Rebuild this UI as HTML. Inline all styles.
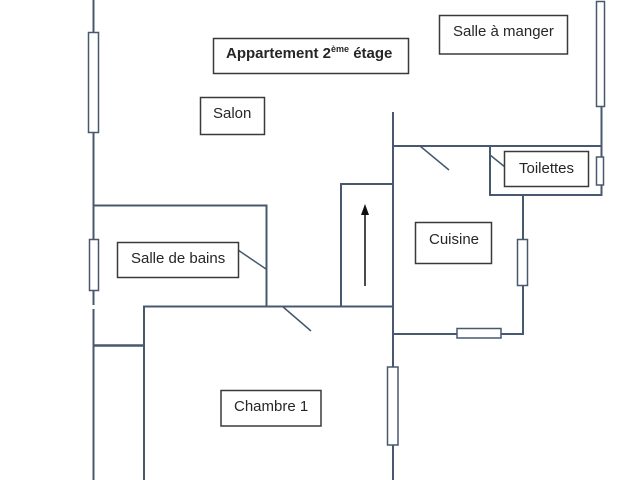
<!DOCTYPE html>
<html><head><meta charset="utf-8"><style>
html,body{margin:0;padding:0;background:#fff;}
svg{display:block;}
text{font-family:"Liberation Sans",Arial,sans-serif;font-size:15px;fill:#262626;}
</style></head><body>
<svg width="640" height="480" viewBox="0 0 640 480" xmlns="http://www.w3.org/2000/svg">
<g stroke="#48586f" stroke-width="2" fill="none">
  <!-- left outer wall -->
  <line x1="93.5" y1="0" x2="93.5" y2="305"/>
  <line x1="93.5" y1="309" x2="93.5" y2="480"/>
  <!-- bathroom -->
  <polyline points="93.5,205.5 266.5,205.5 266.5,306"/>
  <line x1="143" y1="306.5" x2="393" y2="306.5"/>
  <line x1="144" y1="306" x2="144" y2="480"/>
  <line x1="93" y1="345.5" x2="144" y2="345.5" stroke-width="2.5"/>
  <!-- stairs -->
  <polyline points="341,306 341,184 393,184"/>
  <!-- central vertical wall -->
  <line x1="393" y1="112" x2="393" y2="480"/>
  <!-- kitchen top -->
  <line x1="393" y1="146" x2="602" y2="146"/>
  <!-- right wall -->
  <line x1="601.5" y1="107" x2="601.5" y2="196"/>
  <!-- toilets -->
  <polyline points="490,146 490,195 602,195"/>
  <!-- kitchen right and bottom -->
  <polyline points="523,195 523,334 393,334"/>
</g>
<!-- door swings -->
<g stroke="#48586f" stroke-width="1.5">
  <line x1="238" y1="250" x2="266" y2="269"/>
  <line x1="282" y1="306" x2="311" y2="331"/>
  <line x1="420" y1="146" x2="449" y2="170"/>
  <line x1="490" y1="155" x2="505" y2="167"/>
</g>
<!-- windows -->
<g stroke="#48586f" stroke-width="1.5" fill="#fff">
  <rect x="88.5" y="32.5" width="10" height="100"/>
  <rect x="89.5" y="239.5" width="9" height="51"/>
  <rect x="596.5" y="1.5" width="8" height="105"/>
  <rect x="596.5" y="157" width="7" height="28"/>
  <rect x="517.5" y="239.5" width="10" height="46"/>
  <rect x="457" y="328.5" width="44" height="9.5"/>
  <rect x="387.5" y="367" width="10.5" height="78"/>
</g>
<!-- arrow -->
<line x1="365" y1="286" x2="365" y2="212" stroke="#111" stroke-width="1.5"/>
<polygon points="365,204 361,215 369,215" fill="#111"/>
<!-- label boxes -->
<g stroke="#3a3a3a" stroke-width="1.5" fill="#fff">
  <rect x="213.5" y="38.5" width="195" height="35"/>
  <rect x="200.5" y="97.5" width="64" height="37"/>
  <rect x="439.5" y="15.5" width="128" height="38.5"/>
  <rect x="504.5" y="151.5" width="84" height="35"/>
  <rect x="117.5" y="242.5" width="121" height="35"/>
  <rect x="415.5" y="222.5" width="76" height="41"/>
  <rect x="221" y="390.5" width="100" height="35.5"/>
</g>
<text x="226" y="58" font-weight="bold" style="font-weight:bold">Appartement 2<tspan font-size="9" dy="-6">ème</tspan><tspan dy="6"> étage</tspan></text>
<text x="213" y="118">Salon</text>
<text x="453" y="36">Salle à manger</text>
<text x="519" y="173">Toilettes</text>
<text x="131" y="263">Salle de bains</text>
<text x="429" y="244">Cuisine</text>
<text x="234" y="411">Chambre 1</text>
</svg>
</body></html>
